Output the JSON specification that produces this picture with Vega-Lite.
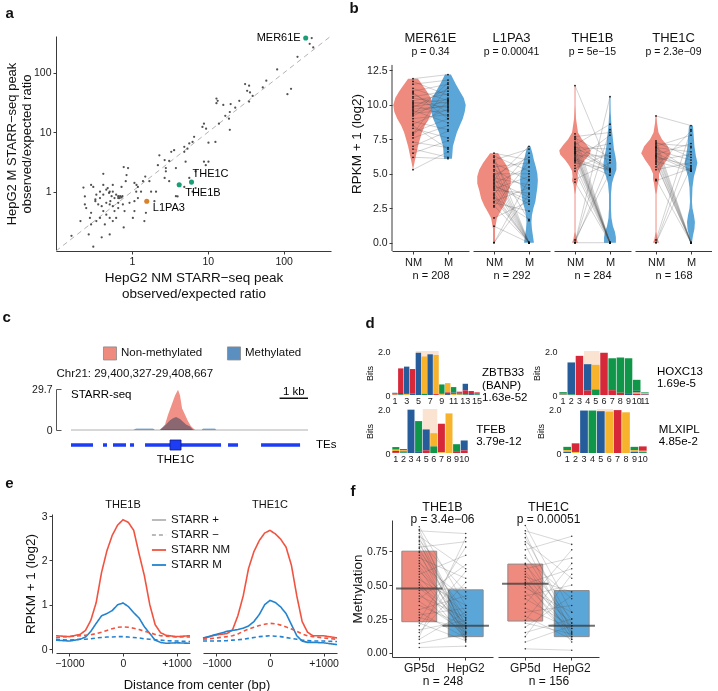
{
"$schema":"https://vega.github.io/schema/vega-lite/v6.json",
"padding":{"left":2,"top":0,"right":0,"bottom":0},
"background":"white",
"config":{
 "font":"Liberation Sans",
 "view":{"stroke":null},
 "axis":{"grid":false,"domainColor":"#3a3a3a","tickColor":"#3a3a3a","labelColor":"#1a1a1a","titleColor":"#111111","labelFontSize":10.5,"titleFontSize":13,"titleFontWeight":"normal","tickSize":3,"labelPadding":2,"titlePadding":4},
 "title":{"fontWeight":"normal","color":"#111111","subtitleColor":"#111111"},
 "header":{"labelFont":"Liberation Sans","labelColor":"#111111","titleFont":"Liberation Sans","titleColor":"#111111","titleFontWeight":"normal"},
 "legend":{"labelFont":"Liberation Sans","labelColor":"#111111"}
},
"datasets":{
 "peaks":[
{"nm":234,"m":387},{"nm":220,"m":310},{"nm":245,"m":270},{"nm":152,"m":187},{"nm":82,"m":115},{"nm":112,"m":44},{"nm":125,"m":54},{"nm":59,"m":74},{"nm":53,"m":57},{"nm":35,"m":61},{"nm":31,"m":65},{"nm":33,"m":50},{"nm":36,"m":47},{"nm":39,"m":41},{"nm":35,"m":33},{"nm":26,"m":34},{"nm":23,"m":26},{"nm":20,"m":30},{"nm":16,"m":29},{"nm":13,"m":37},{"nm":13.5,"m":34},{"nm":13,"m":31},{"nm":19.5,"m":22},{"nm":17,"m":19},{"nm":19,"m":17},{"nm":14,"m":14},{"nm":19.5,"m":11},{"nm":8.9,"m":14},{"nm":8.5,"m":12.3},{"nm":9.5,"m":11.5},{"nm":12.6,"m":6.9},{"nm":10.2,"m":6.7},{"nm":6.6,"m":8.4},{"nm":6.3,"m":6.9},{"nm":5.7,"m":6.5},{"nm":4.9,"m":5.7},{"nm":5.4,"m":5.3},{"nm":4.9,"m":4.7},{"nm":8.9,"m":3.2},{"nm":9.4,"m":2.8},{"nm":10.2,"m":3.2},{"nm":3.6,"m":5.0},{"nm":3.3,"m":4.7},{"nm":2.3,"m":4.1},{"nm":2.7,"m":3.4},{"nm":3.1,"m":3.3},{"nm":3.8,"m":2.5},{"nm":2.8,"m":2.5},{"nm":2.8,"m":2.2},{"nm":2.2,"m":2.8},{"nm":5.1,"m":3.2},{"nm":5.7,"m":1.7},{"nm":6.9,"m":2.2},{"nm":4.9,"m":1.2},{"nm":4.0,"m":0.83},{"nm":6.3,"m":1.0},{"nm":6.9,"m":1.15},{"nm":3.1,"m":1.5},{"nm":2.7,"m":1.7},{"nm":1.7,"m":1.5},{"nm":1.5,"m":1.8},{"nm":1.4,"m":1.5},{"nm":1.15,"m":1.3},{"nm":1.2,"m":1.2},{"nm":1.08,"m":1.4},{"nm":0.85,"m":1.9},{"nm":0.89,"m":2.5},{"nm":0.78,"m":2.6},{"nm":0.83,"m":1.5},{"nm":0.73,"m":1.2},{"nm":0.66,"m":0.78},{"nm":0.51,"m":1.0},{"nm":0.42,"m":2.0},{"nm":0.31,"m":1.2},{"nm":0.23,"m":1.17},{"nm":0.24,"m":0.83},{"nm":0.29,"m":1.3},
{"nm":0.38,"m":1.0},{"nm":0.42,"m":0.89},{"nm":0.46,"m":1.08},{"nm":0.48,"m":1.15},{"nm":0.5,"m":0.95},{"nm":0.54,"m":0.84},{"nm":0.56,"m":1.0},{"nm":0.59,"m":0.78},{"nm":0.62,"m":0.89},{"nm":0.66,"m":0.84},{"nm":0.69,"m":0.78},{"nm":0.70,"m":0.84},{"nm":0.73,"m":0.8},{"nm":0.75,"m":0.84},{"nm":0.52,"m":0.69},{"nm":0.46,"m":0.65},{"nm":0.40,"m":0.57},{"nm":0.38,"m":0.78},{"nm":0.34,"m":0.89},{"nm":0.33,"m":0.69},{"nm":0.36,"m":0.61},{"nm":0.42,"m":0.47},{"nm":0.46,"m":0.41},{"nm":0.56,"m":0.57},{"nm":0.59,"m":0.47},{"nm":0.66,"m":0.53},{"nm":0.51,"m":0.36},{"nm":0.56,"m":0.32},{"nm":0.62,"m":0.36},{"nm":0.44,"m":0.28},{"nm":0.38,"m":0.36},{"nm":0.34,"m":0.32},{"nm":0.29,"m":0.44},{"nm":0.28,"m":0.36},{"nm":0.29,"m":0.28},{"nm":0.24,"m":0.61},{"nm":0.25,"m":0.53},{"nm":0.40,"m":0.17},{"nm":0.51,"m":0.19},{"nm":0.31,"m":0.118},{"nm":0.21,"m":0.32},{"nm":0.16,"m":0.18},{"nm":0.27,"m":0.19},{"nm":0.78,"m":0.25},{"nm":1.03,"m":0.36},{"nm":0.80,"m":0.47},{"nm":0.93,"m":0.65},{"nm":1.08,"m":0.47},{"nm":1.46,"m":0.32},{"nm":1.53,"m":0.44},{"nm":1.98,"m":0.69},{"nm":2.08,"m":1.0},{"nm":1.08,"m":0.69},{"nm":1.2,"m":0.78},{"nm":0.76,"m":0.61},{"nm":0.66,"m":0.65},{"nm":1.14,"m":1.0},{"nm":1.32,"m":1.0},{"nm":1.79,"m":1.0},{"nm":3.8,"m":0.84},{"nm":0.42,"m":1.3},{"nm":0.56,"m":1.3},{"nm":0.33,"m":0.74},{"nm":0.51,"m":0.61}
 ],
 "hl":[{"te":"MER61E","nm":195,"m":388},{"te":"THE1C","nm":6.1,"m":1.45},{"te":"THE1B","nm":4.2,"m":1.31},{"te":"L1PA3","nm":1.57,"m":0.69}],
 "violin":[
{"f":"MER61E","c":"NM","v":5.3,"d":0},{"f":"MER61E","c":"NM","v":6,"d":2},{"f":"MER61E","c":"NM","v":6.5,"d":3.5},{"f":"MER61E","c":"NM","v":7,"d":5},{"f":"MER61E","c":"NM","v":7.5,"d":7},{"f":"MER61E","c":"NM","v":8,"d":9},{"f":"MER61E","c":"NM","v":8.5,"d":12},{"f":"MER61E","c":"NM","v":9,"d":16},{"f":"MER61E","c":"NM","v":9.5,"d":19},{"f":"MER61E","c":"NM","v":10,"d":20},{"f":"MER61E","c":"NM","v":10.5,"d":18},{"f":"MER61E","c":"NM","v":11,"d":14},{"f":"MER61E","c":"NM","v":11.5,"d":9},{"f":"MER61E","c":"NM","v":11.9,"d":5},
{"f":"MER61E","c":"M","v":6.1,"d":4},{"f":"MER61E","c":"M","v":6.5,"d":4.5},{"f":"MER61E","c":"M","v":7,"d":5},{"f":"MER61E","c":"M","v":7.5,"d":7},{"f":"MER61E","c":"M","v":8,"d":9},{"f":"MER61E","c":"M","v":8.5,"d":12},{"f":"MER61E","c":"M","v":9,"d":15},{"f":"MER61E","c":"M","v":9.5,"d":17},{"f":"MER61E","c":"M","v":10,"d":18},{"f":"MER61E","c":"M","v":10.5,"d":16},{"f":"MER61E","c":"M","v":11,"d":12},{"f":"MER61E","c":"M","v":11.5,"d":8},{"f":"MER61E","c":"M","v":12.2,"d":3},
{"f":"L1PA3","c":"NM","v":0,"d":1},{"f":"L1PA3","c":"NM","v":1,"d":1},{"f":"L1PA3","c":"NM","v":1.8,"d":3},{"f":"L1PA3","c":"NM","v":2.2,"d":6},{"f":"L1PA3","c":"NM","v":2.7,"d":10},{"f":"L1PA3","c":"NM","v":3.2,"d":13},{"f":"L1PA3","c":"NM","v":3.8,"d":15},{"f":"L1PA3","c":"NM","v":4.3,"d":17},{"f":"L1PA3","c":"NM","v":4.8,"d":17},{"f":"L1PA3","c":"NM","v":5.3,"d":15},{"f":"L1PA3","c":"NM","v":5.8,"d":11},{"f":"L1PA3","c":"NM","v":6.3,"d":6},{"f":"L1PA3","c":"NM","v":6.5,"d":4},
{"f":"L1PA3","c":"M","v":0,"d":5},{"f":"L1PA3","c":"M","v":0.5,"d":4},{"f":"L1PA3","c":"M","v":1,"d":3},{"f":"L1PA3","c":"M","v":1.5,"d":2.5},{"f":"L1PA3","c":"M","v":2,"d":3},{"f":"L1PA3","c":"M","v":2.5,"d":4.5},{"f":"L1PA3","c":"M","v":3,"d":6.5},{"f":"L1PA3","c":"M","v":3.5,"d":7.5},{"f":"L1PA3","c":"M","v":4,"d":8.5},{"f":"L1PA3","c":"M","v":4.5,"d":9},{"f":"L1PA3","c":"M","v":5,"d":8.5},{"f":"L1PA3","c":"M","v":5.5,"d":7},{"f":"L1PA3","c":"M","v":6,"d":5},{"f":"L1PA3","c":"M","v":6.5,"d":3.5},{"f":"L1PA3","c":"M","v":7,"d":1.5},
{"f":"THE1B","c":"NM","v":0,"d":3},{"f":"THE1B","c":"NM","v":0.3,"d":1.5},{"f":"THE1B","c":"NM","v":0.8,"d":0.5},{"f":"THE1B","c":"NM","v":2,"d":0.5},{"f":"THE1B","c":"NM","v":3.5,"d":0.5},{"f":"THE1B","c":"NM","v":4.2,"d":1.5},{"f":"THE1B","c":"NM","v":4.5,"d":3},{"f":"THE1B","c":"NM","v":4.8,"d":2.5},{"f":"THE1B","c":"NM","v":5.2,"d":3},{"f":"THE1B","c":"NM","v":5.6,"d":6},{"f":"THE1B","c":"NM","v":6,"d":10},{"f":"THE1B","c":"NM","v":6.4,"d":15},{"f":"THE1B","c":"NM","v":6.7,"d":16},{"f":"THE1B","c":"NM","v":7.1,"d":12},{"f":"THE1B","c":"NM","v":7.5,"d":7},{"f":"THE1B","c":"NM","v":8,"d":3},{"f":"THE1B","c":"NM","v":9,"d":1},{"f":"THE1B","c":"NM","v":10,"d":0.5},{"f":"THE1B","c":"NM","v":11.4,"d":0.5},
{"f":"THE1B","c":"M","v":0,"d":6},{"f":"THE1B","c":"M","v":0.4,"d":6},{"f":"THE1B","c":"M","v":0.8,"d":5},{"f":"THE1B","c":"M","v":1.2,"d":3},{"f":"THE1B","c":"M","v":1.8,"d":1.5},{"f":"THE1B","c":"M","v":2.5,"d":1},{"f":"THE1B","c":"M","v":3.5,"d":1},{"f":"THE1B","c":"M","v":4.3,"d":2},{"f":"THE1B","c":"M","v":4.8,"d":4},{"f":"THE1B","c":"M","v":5.3,"d":6.5},{"f":"THE1B","c":"M","v":5.8,"d":6.5},{"f":"THE1B","c":"M","v":6.3,"d":5.5},{"f":"THE1B","c":"M","v":6.8,"d":4},{"f":"THE1B","c":"M","v":7.5,"d":3},{"f":"THE1B","c":"M","v":8.5,"d":1.5},{"f":"THE1B","c":"M","v":9.5,"d":0.7},{"f":"THE1B","c":"M","v":10.6,"d":0.5},
{"f":"THE1C","c":"NM","v":0,"d":3},{"f":"THE1C","c":"NM","v":0.3,"d":1.5},{"f":"THE1C","c":"NM","v":0.8,"d":0.5},{"f":"THE1C","c":"NM","v":2,"d":0.5},{"f":"THE1C","c":"NM","v":3.5,"d":0.5},{"f":"THE1C","c":"NM","v":4.3,"d":2},{"f":"THE1C","c":"NM","v":4.6,"d":3},{"f":"THE1C","c":"NM","v":5,"d":3},{"f":"THE1C","c":"NM","v":5.5,"d":6},{"f":"THE1C","c":"NM","v":6,"d":11},{"f":"THE1C","c":"NM","v":6.5,"d":15},{"f":"THE1C","c":"NM","v":7,"d":12},{"f":"THE1C","c":"NM","v":7.5,"d":6},{"f":"THE1C","c":"NM","v":8,"d":2.5},{"f":"THE1C","c":"NM","v":8.7,"d":1},{"f":"THE1C","c":"NM","v":9.2,"d":0.5},
{"f":"THE1C","c":"M","v":0,"d":1},{"f":"THE1C","c":"M","v":0.5,"d":2},{"f":"THE1C","c":"M","v":1,"d":3.5},{"f":"THE1C","c":"M","v":1.5,"d":4},{"f":"THE1C","c":"M","v":2,"d":3},{"f":"THE1C","c":"M","v":2.5,"d":1.5},{"f":"THE1C","c":"M","v":3,"d":1},{"f":"THE1C","c":"M","v":4,"d":1.5},{"f":"THE1C","c":"M","v":4.8,"d":3},{"f":"THE1C","c":"M","v":5.3,"d":5},{"f":"THE1C","c":"M","v":5.8,"d":6.5},{"f":"THE1C","c":"M","v":6.3,"d":5},{"f":"THE1C","c":"M","v":7,"d":3.5},{"f":"THE1C","c":"M","v":7.5,"d":3},{"f":"THE1C","c":"M","v":8,"d":2.5},{"f":"THE1C","c":"M","v":8.5,"d":2}
 ],
 "pairsB":[
{"f":"MER61E","id":1,"NM":11.9,"M":12.2},{"f":"MER61E","id":2,"NM":11.5,"M":11.8},{"f":"MER61E","id":3,"NM":11.2,"M":10.3},{"f":"MER61E","id":4,"NM":11.0,"M":11.5},{"f":"MER61E","id":5,"NM":10.8,"M":9.5},{"f":"MER61E","id":6,"NM":10.6,"M":11.0},{"f":"MER61E","id":7,"NM":10.5,"M":10.1},{"f":"MER61E","id":8,"NM":10.3,"M":10.8},{"f":"MER61E","id":9,"NM":10.2,"M":9.8},{"f":"MER61E","id":10,"NM":10.1,"M":10.4},{"f":"MER61E","id":11,"NM":10.0,"M":9.2},{"f":"MER61E","id":12,"NM":9.9,"M":10.2},{"f":"MER61E","id":13,"NM":9.8,"M":11.2},{"f":"MER61E","id":14,"NM":9.7,"M":9.9},{"f":"MER61E","id":15,"NM":9.6,"M":8.7},{"f":"MER61E","id":16,"NM":9.5,"M":10.0},{"f":"MER61E","id":17,"NM":9.4,"M":9.6},{"f":"MER61E","id":18,"NM":9.2,"M":10.5},{"f":"MER61E","id":19,"NM":9.0,"M":9.3},{"f":"MER61E","id":20,"NM":8.8,"M":8.2},{"f":"MER61E","id":21,"NM":8.6,"M":9.7},{"f":"MER61E","id":22,"NM":8.3,"M":7.6},{"f":"MER61E","id":23,"NM":8.0,"M":9.0},{"f":"MER61E","id":24,"NM":7.8,"M":10.3},{"f":"MER61E","id":25,"NM":7.6,"M":8.5},{"f":"MER61E","id":26,"NM":7.3,"M":6.9},{"f":"MER61E","id":27,"NM":7.0,"M":8.1},{"f":"MER61E","id":28,"NM":6.8,"M":6.2},{"f":"MER61E","id":29,"NM":6.5,"M":7.4},{"f":"MER61E","id":30,"NM":6.2,"M":6.1},{"f":"MER61E","id":31,"NM":5.3,"M":6.6},{"f":"MER61E","id":32,"NM":11.7,"M":10.7},{"f":"MER61E","id":33,"NM":10.9,"M":9.0},{"f":"MER61E","id":34,"NM":9.3,"M":11.6},{"f":"MER61E","id":35,"NM":8.5,"M":6.8},{"f":"MER61E","id":36,"NM":7.9,"M":11.3},
{"f":"L1PA3","id":1,"NM":6.5,"M":6.0},{"f":"L1PA3","id":2,"NM":6.3,"M":5.2},{"f":"L1PA3","id":3,"NM":6.2,"M":0.0},{"f":"L1PA3","id":4,"NM":6.0,"M":6.8},{"f":"L1PA3","id":5,"NM":5.8,"M":4.5},{"f":"L1PA3","id":6,"NM":5.6,"M":0.0},{"f":"L1PA3","id":7,"NM":5.5,"M":5.8},{"f":"L1PA3","id":8,"NM":5.3,"M":3.9},{"f":"L1PA3","id":9,"NM":5.2,"M":0.0},{"f":"L1PA3","id":10,"NM":5.0,"M":5.0},{"f":"L1PA3","id":11,"NM":4.9,"M":6.2},{"f":"L1PA3","id":12,"NM":4.8,"M":0.0},{"f":"L1PA3","id":13,"NM":4.7,"M":4.2},{"f":"L1PA3","id":14,"NM":4.5,"M":3.3},{"f":"L1PA3","id":15,"NM":4.4,"M":0.0},{"f":"L1PA3","id":16,"NM":4.3,"M":5.5},{"f":"L1PA3","id":17,"NM":4.2,"M":2.8},{"f":"L1PA3","id":18,"NM":4.0,"M":0.0},{"f":"L1PA3","id":19,"NM":3.9,"M":4.8},{"f":"L1PA3","id":20,"NM":3.8,"M":3.6},{"f":"L1PA3","id":21,"NM":3.6,"M":0.0},{"f":"L1PA3","id":22,"NM":3.5,"M":6.5},{"f":"L1PA3","id":23,"NM":3.3,"M":1.7},{"f":"L1PA3","id":24,"NM":3.2,"M":0.0},{"f":"L1PA3","id":25,"NM":3.0,"M":4.0},{"f":"L1PA3","id":26,"NM":2.9,"M":2.3},{"f":"L1PA3","id":27,"NM":2.7,"M":0.0},{"f":"L1PA3","id":28,"NM":2.6,"M":5.9},{"f":"L1PA3","id":29,"NM":1.8,"M":3.0},{"f":"L1PA3","id":30,"NM":1.2,"M":0.0},{"f":"L1PA3","id":31,"NM":0.0,"M":3.5},{"f":"L1PA3","id":32,"NM":0.0,"M":4.6},{"f":"L1PA3","id":33,"NM":5.9,"M":1.6},{"f":"L1PA3","id":34,"NM":4.6,"M":7.0},{"f":"L1PA3","id":35,"NM":3.4,"M":0.0},{"f":"L1PA3","id":36,"NM":4.1,"M":3.1},
{"f":"THE1B","id":1,"NM":11.4,"M":5.3},{"f":"THE1B","id":2,"NM":7.9,"M":0.0},{"f":"THE1B","id":3,"NM":7.6,"M":6.2},{"f":"THE1B","id":4,"NM":7.5,"M":0.0},{"f":"THE1B","id":5,"NM":7.3,"M":5.3},{"f":"THE1B","id":6,"NM":7.2,"M":0.0},{"f":"THE1B","id":7,"NM":7.1,"M":8.6},{"f":"THE1B","id":8,"NM":7.0,"M":5.2},{"f":"THE1B","id":9,"NM":6.9,"M":0.0},{"f":"THE1B","id":10,"NM":6.8,"M":6.0},{"f":"THE1B","id":11,"NM":6.8,"M":0.0},{"f":"THE1B","id":12,"NM":6.7,"M":5.4},{"f":"THE1B","id":13,"NM":6.6,"M":0.0},{"f":"THE1B","id":14,"NM":6.6,"M":7.2},{"f":"THE1B","id":15,"NM":6.5,"M":5.3},{"f":"THE1B","id":16,"NM":6.4,"M":0.0},{"f":"THE1B","id":17,"NM":6.3,"M":6.3},{"f":"THE1B","id":18,"NM":6.2,"M":0.0},{"f":"THE1B","id":19,"NM":6.1,"M":5.2},{"f":"THE1B","id":20,"NM":6.0,"M":0.0},{"f":"THE1B","id":21,"NM":5.9,"M":7.8},{"f":"THE1B","id":22,"NM":5.8,"M":5.3},{"f":"THE1B","id":23,"NM":5.6,"M":0.0},{"f":"THE1B","id":24,"NM":5.4,"M":6.5},{"f":"THE1B","id":25,"NM":5.2,"M":0.0},{"f":"THE1B","id":26,"NM":4.6,"M":5.8},{"f":"THE1B","id":27,"NM":4.4,"M":0.0},{"f":"THE1B","id":28,"NM":0.0,"M":10.6},{"f":"THE1B","id":29,"NM":0.0,"M":8.2},{"f":"THE1B","id":30,"NM":0.0,"M":6.0},{"f":"THE1B","id":31,"NM":0.0,"M":0.0},{"f":"THE1B","id":32,"NM":0.2,"M":5.1},{"f":"THE1B","id":33,"NM":6.9,"M":6.8},{"f":"THE1B","id":34,"NM":7.7,"M":8.0},{"f":"THE1B","id":35,"NM":6.0,"M":4.9},{"f":"THE1B","id":36,"NM":6.5,"M":0.0},
{"f":"THE1C","id":1,"NM":9.2,"M":8.5},{"f":"THE1C","id":2,"NM":7.4,"M":0.0},{"f":"THE1C","id":3,"NM":7.3,"M":6.2},{"f":"THE1C","id":4,"NM":7.1,"M":0.0},{"f":"THE1C","id":5,"NM":7.0,"M":7.8},{"f":"THE1C","id":6,"NM":6.9,"M":5.2},{"f":"THE1C","id":7,"NM":6.8,"M":0.0},{"f":"THE1C","id":8,"NM":6.7,"M":6.0},{"f":"THE1C","id":9,"NM":6.6,"M":0.0},{"f":"THE1C","id":10,"NM":6.5,"M":5.3},{"f":"THE1C","id":11,"NM":6.4,"M":7.2},{"f":"THE1C","id":12,"NM":6.3,"M":0.0},{"f":"THE1C","id":13,"NM":6.2,"M":5.6},{"f":"THE1C","id":14,"NM":6.1,"M":0.0},{"f":"THE1C","id":15,"NM":6.0,"M":6.4},{"f":"THE1C","id":16,"NM":5.9,"M":5.2},{"f":"THE1C","id":17,"NM":5.7,"M":0.0},{"f":"THE1C","id":18,"NM":5.5,"M":8.1},{"f":"THE1C","id":19,"NM":5.3,"M":5.8},{"f":"THE1C","id":20,"NM":4.6,"M":0.0},{"f":"THE1C","id":21,"NM":4.5,"M":5.4},{"f":"THE1C","id":22,"NM":0.0,"M":6.9},{"f":"THE1C","id":23,"NM":0.0,"M":5.5},{"f":"THE1C","id":24,"NM":0.2,"M":8.2},{"f":"THE1C","id":25,"NM":6.9,"M":6.6},{"f":"THE1C","id":26,"NM":6.3,"M":5.2},{"f":"THE1C","id":27,"NM":5.8,"M":0.0},{"f":"THE1C","id":28,"NM":7.2,"M":7.0}
 ],
 "starr":[
{"sample":"Non-methylated","pos":29403460,"cov":0},{"sample":"Non-methylated","pos":29403636,"cov":4},{"sample":"Non-methylated","pos":29403741,"cov":11},{"sample":"Non-methylated","pos":29403847,"cov":17},{"sample":"Non-methylated","pos":29403988,"cov":25},{"sample":"Non-methylated","pos":29404093,"cov":29.2},{"sample":"Non-methylated","pos":29404164,"cov":25},{"sample":"Non-methylated","pos":29404234,"cov":15.7},{"sample":"Non-methylated","pos":29404340,"cov":11},{"sample":"Non-methylated","pos":29404445,"cov":6.3},{"sample":"Non-methylated","pos":29404551,"cov":2.8},{"sample":"Non-methylated","pos":29404692,"cov":0},
{"sample":"Methylated","pos":29402527,"cov":0},{"sample":"Methylated","pos":29402615,"cov":1.0},{"sample":"Methylated","pos":29403213,"cov":1.0},{"sample":"Methylated","pos":29403277,"cov":0},{"sample":"Methylated","pos":29403460,"cov":0},{"sample":"Methylated","pos":29403477,"cov":0.8},{"sample":"Methylated","pos":29403565,"cov":2},{"sample":"Methylated","pos":29403671,"cov":4},{"sample":"Methylated","pos":29403812,"cov":7},{"sample":"Methylated","pos":29403917,"cov":8.5},{"sample":"Methylated","pos":29404023,"cov":9.5},{"sample":"Methylated","pos":29404164,"cov":8},{"sample":"Methylated","pos":29404269,"cov":6},{"sample":"Methylated","pos":29404375,"cov":4},{"sample":"Methylated","pos":29404516,"cov":2.5},{"sample":"Methylated","pos":29404621,"cov":0},{"sample":"Methylated","pos":29404927,"cov":0},{"sample":"Methylated","pos":29404973,"cov":1.0},{"sample":"Methylated","pos":29405396,"cov":1.0},{"sample":"Methylated","pos":29405437,"cov":0}
 ],
 "tes":[{"start":29400327,"end":29401101},{"start":29401453,"end":29401594},{"start":29401805,"end":29402263},{"start":29402404,"end":29402545},{"start":29402932,"end":29403812},{"start":29404199,"end":29405607},{"start":29405853,"end":29406205},{"start":29407015,"end":29408388}],
 "the1c":[{"name":"THE1C","start":29403812,"end":29404199}],
 "logo":[
{"m":"ZBTB33","p":1,"b":"A","h":0.03},{"m":"ZBTB33","p":1,"b":"C","h":0.03},{"m":"ZBTB33","p":1,"b":"G","h":0.02},{"m":"ZBTB33","p":1,"b":"T","h":0.02},
{"m":"ZBTB33","p":2,"b":"T","h":1.12},{"m":"ZBTB33","p":2,"b":"C","h":0.06},{"m":"ZBTB33","p":2,"b":"A","h":0.03},
{"m":"ZBTB33","p":3,"b":"C","h":1.2},{"m":"ZBTB33","p":3,"b":"A","h":0.05},{"m":"ZBTB33","p":3,"b":"G","h":0.04},
{"m":"ZBTB33","p":4,"b":"T","h":1.12},{"m":"ZBTB33","p":4,"b":"C","h":0.06},
{"m":"ZBTB33","p":5,"b":"C","h":1.92},
{"m":"ZBTB33","p":6,"b":"G","h":1.7},{"m":"ZBTB33","p":6,"b":"A","h":0.05},
{"m":"ZBTB33","p":7,"b":"C","h":1.85},
{"m":"ZBTB33","p":8,"b":"G","h":1.78},{"m":"ZBTB33","p":8,"b":"T","h":0.04},
{"m":"ZBTB33","p":9,"b":"A","h":0.4},{"m":"ZBTB33","p":9,"b":"T","h":0.05},{"m":"ZBTB33","p":9,"b":"G","h":0.03},
{"m":"ZBTB33","p":10,"b":"G","h":0.42},{"m":"ZBTB33","p":10,"b":"T","h":0.08},{"m":"ZBTB33","p":10,"b":"C","h":0.04},
{"m":"ZBTB33","p":11,"b":"A","h":0.25},{"m":"ZBTB33","p":11,"b":"C","h":0.06},{"m":"ZBTB33","p":11,"b":"G","h":0.05},
{"m":"ZBTB33","p":12,"b":"T","h":0.05},{"m":"ZBTB33","p":12,"b":"C","h":0.04},{"m":"ZBTB33","p":12,"b":"G","h":0.03},{"m":"ZBTB33","p":12,"b":"A","h":0.03},
{"m":"ZBTB33","p":13,"b":"C","h":0.3},{"m":"ZBTB33","p":13,"b":"T","h":0.18},{"m":"ZBTB33","p":13,"b":"A","h":0.03},
{"m":"ZBTB33","p":14,"b":"T","h":0.14},{"m":"ZBTB33","p":14,"b":"C","h":0.04},
{"m":"ZBTB33","p":15,"b":"T","h":0.05},{"m":"ZBTB33","p":15,"b":"C","h":0.04},{"m":"ZBTB33","p":15,"b":"A","h":0.03},
{"m":"HOXC13","p":1,"b":"A","h":0.04},{"m":"HOXC13","p":1,"b":"C","h":0.03},{"m":"HOXC13","p":1,"b":"G","h":0.03},{"m":"HOXC13","p":1,"b":"T","h":0.03},
{"m":"HOXC13","p":2,"b":"C","h":1.45},{"m":"HOXC13","p":2,"b":"A","h":0.03},
{"m":"HOXC13","p":3,"b":"T","h":1.78},
{"m":"HOXC13","p":4,"b":"C","h":1.2},{"m":"HOXC13","p":4,"b":"T","h":0.2},
{"m":"HOXC13","p":5,"b":"G","h":1.12},{"m":"HOXC13","p":5,"b":"A","h":0.25},
{"m":"HOXC13","p":6,"b":"T","h":1.92},
{"m":"HOXC13","p":7,"b":"A","h":1.45},{"m":"HOXC13","p":7,"b":"T","h":0.22},
{"m":"HOXC13","p":8,"b":"A","h":1.6},{"m":"HOXC13","p":8,"b":"T","h":0.1},
{"m":"HOXC13","p":9,"b":"A","h":1.62},{"m":"HOXC13","p":9,"b":"C","h":0.05},
{"m":"HOXC13","p":10,"b":"A","h":0.5},{"m":"HOXC13","p":10,"b":"C","h":0.08},{"m":"HOXC13","p":10,"b":"G","h":0.06},{"m":"HOXC13","p":10,"b":"T","h":0.05},
{"m":"HOXC13","p":11,"b":"A","h":0.04},{"m":"HOXC13","p":11,"b":"C","h":0.03},{"m":"HOXC13","p":11,"b":"G","h":0.03},{"m":"HOXC13","p":11,"b":"T","h":0.02},
{"m":"TFEB","p":1,"b":"A","h":0.12},{"m":"TFEB","p":1,"b":"G","h":0.06},{"m":"TFEB","p":1,"b":"C","h":0.05},{"m":"TFEB","p":1,"b":"T","h":0.04},
{"m":"TFEB","p":2,"b":"T","h":0.06},{"m":"TFEB","p":2,"b":"G","h":0.05},{"m":"TFEB","p":2,"b":"C","h":0.04},{"m":"TFEB","p":2,"b":"A","h":0.03},
{"m":"TFEB","p":3,"b":"C","h":1.97},
{"m":"TFEB","p":4,"b":"A","h":1.4},{"m":"TFEB","p":4,"b":"C","h":0.05},
{"m":"TFEB","p":5,"b":"C","h":0.95},{"m":"TFEB","p":5,"b":"T","h":0.12},
{"m":"TFEB","p":6,"b":"G","h":0.6},{"m":"TFEB","p":6,"b":"A","h":0.3},
{"m":"TFEB","p":7,"b":"T","h":1.3},{"m":"TFEB","p":7,"b":"G","h":0.03},
{"m":"TFEB","p":8,"b":"G","h":1.8},
{"m":"TFEB","p":9,"b":"A","h":0.35},{"m":"TFEB","p":9,"b":"T","h":0.05},
{"m":"TFEB","p":10,"b":"C","h":0.45},{"m":"TFEB","p":10,"b":"T","h":0.12},
{"m":"MLXIPL","p":1,"b":"A","h":0.15},{"m":"MLXIPL","p":1,"b":"G","h":0.08},{"m":"MLXIPL","p":1,"b":"C","h":0.05},
{"m":"MLXIPL","p":2,"b":"T","h":0.35},{"m":"MLXIPL","p":2,"b":"A","h":0.05},{"m":"MLXIPL","p":2,"b":"G","h":0.04},
{"m":"MLXIPL","p":3,"b":"C","h":1.93},
{"m":"MLXIPL","p":4,"b":"A","h":1.93},
{"m":"MLXIPL","p":5,"b":"C","h":1.9},
{"m":"MLXIPL","p":6,"b":"G","h":1.88},
{"m":"MLXIPL","p":7,"b":"T","h":1.95},
{"m":"MLXIPL","p":8,"b":"G","h":1.85},
{"m":"MLXIPL","p":9,"b":"A","h":0.15},{"m":"MLXIPL","p":9,"b":"G","h":0.08},{"m":"MLXIPL","p":9,"b":"C","h":0.05},
{"m":"MLXIPL","p":10,"b":"T","h":0.2},{"m":"MLXIPL","p":10,"b":"G","h":0.06},{"m":"MLXIPL","p":10,"b":"A","h":0.04}
 ],
 "logohl":[{"m":"ZBTB33","from":5,"to":8},{"m":"HOXC13","from":4,"to":5},{"m":"TFEB","from":5,"to":6},{"m":"MLXIPL","from":5,"to":6}],
 "logolab":[{"m":"ZBTB33","p":15,"name":["ZBTB33","(BANP)","1.63e-52"]},{"m":"HOXC13","p":11,"name":["HOXC13","1.69e-5"]},{"m":"TFEB","p":10,"name":["TFEB","3.79e-12"]},{"m":"MLXIPL","p":10,"name":["MLXIPL","4.85e-2"]}],
 "eprof":[
{"f":"THE1B","pos":-1250,"NMp":0.30,"Mp":0.20,"NMm":0.26,"Mm":0.22},{"f":"THE1B","pos":-1000,"NMp":0.28,"Mp":0.18,"NMm":0.28,"Mm":0.20},{"f":"THE1B","pos":-800,"NMp":0.33,"Mp":0.22,"NMm":0.30,"Mm":0.22},{"f":"THE1B","pos":-700,"NMp":0.42,"Mp":0.27,"NMm":0.31,"Mm":0.22},{"f":"THE1B","pos":-600,"NMp":0.65,"Mp":0.40,"NMm":0.32,"Mm":0.23},{"f":"THE1B","pos":-500,"NMp":1.05,"Mp":0.58,"NMm":0.35,"Mm":0.25},{"f":"THE1B","pos":-400,"NMp":1.73,"Mp":0.75,"NMm":0.38,"Mm":0.26},{"f":"THE1B","pos":-300,"NMp":2.22,"Mp":0.80,"NMm":0.42,"Mm":0.27},{"f":"THE1B","pos":-200,"NMp":2.57,"Mp":0.87,"NMm":0.46,"Mm":0.27},{"f":"THE1B","pos":-100,"NMp":2.80,"Mp":1.00,"NMm":0.49,"Mm":0.28},{"f":"THE1B","pos":0,"NMp":2.92,"Mp":1.04,"NMm":0.50,"Mm":0.28},{"f":"THE1B","pos":100,"NMp":2.86,"Mp":0.96,"NMm":0.49,"Mm":0.27},{"f":"THE1B","pos":200,"NMp":2.68,"Mp":0.82,"NMm":0.47,"Mm":0.26},{"f":"THE1B","pos":300,"NMp":2.15,"Mp":0.70,"NMm":0.44,"Mm":0.25},{"f":"THE1B","pos":400,"NMp":1.65,"Mp":0.50,"NMm":0.40,"Mm":0.23},{"f":"THE1B","pos":500,"NMp":1.00,"Mp":0.35,"NMm":0.37,"Mm":0.22},{"f":"THE1B","pos":600,"NMp":0.55,"Mp":0.20,"NMm":0.33,"Mm":0.21},{"f":"THE1B","pos":700,"NMp":0.37,"Mp":0.15,"NMm":0.30,"Mm":0.20},{"f":"THE1B","pos":800,"NMp":0.31,"Mp":0.13,"NMm":0.29,"Mm":0.19},{"f":"THE1B","pos":1000,"NMp":0.28,"Mp":0.14,"NMm":0.27,"Mm":0.18},{"f":"THE1B","pos":1250,"NMp":0.30,"Mp":0.13,"NMm":0.27,"Mm":0.17},
{"f":"THE1C","pos":-1250,"NMp":0.24,"Mp":0.25,"NMm":0.22,"Mm":0.18},{"f":"THE1C","pos":-1000,"NMp":0.32,"Mp":0.33,"NMm":0.25,"Mm":0.18},{"f":"THE1C","pos":-800,"NMp":0.35,"Mp":0.40,"NMm":0.28,"Mm":0.19},{"f":"THE1C","pos":-700,"NMp":0.43,"Mp":0.42,"NMm":0.30,"Mm":0.20},{"f":"THE1C","pos":-600,"NMp":0.75,"Mp":0.44,"NMm":0.34,"Mm":0.21},{"f":"THE1C","pos":-500,"NMp":1.20,"Mp":0.47,"NMm":0.40,"Mm":0.22},{"f":"THE1C","pos":-400,"NMp":1.82,"Mp":0.52,"NMm":0.45,"Mm":0.24},{"f":"THE1C","pos":-300,"NMp":2.20,"Mp":0.62,"NMm":0.49,"Mm":0.26},{"f":"THE1C","pos":-200,"NMp":2.45,"Mp":0.78,"NMm":0.53,"Mm":0.28},{"f":"THE1C","pos":-100,"NMp":2.62,"Mp":1.00,"NMm":0.56,"Mm":0.29},{"f":"THE1C","pos":0,"NMp":2.68,"Mp":1.10,"NMm":0.58,"Mm":0.30},{"f":"THE1C","pos":100,"NMp":2.60,"Mp":1.05,"NMm":0.57,"Mm":0.29},{"f":"THE1C","pos":200,"NMp":2.48,"Mp":0.95,"NMm":0.54,"Mm":0.28},{"f":"THE1C","pos":300,"NMp":2.30,"Mp":0.80,"NMm":0.50,"Mm":0.26},{"f":"THE1C","pos":400,"NMp":1.89,"Mp":0.55,"NMm":0.45,"Mm":0.24},{"f":"THE1C","pos":500,"NMp":1.20,"Mp":0.30,"NMm":0.40,"Mm":0.22},{"f":"THE1C","pos":600,"NMp":0.62,"Mp":0.18,"NMm":0.34,"Mm":0.20},{"f":"THE1C","pos":700,"NMp":0.38,"Mp":0.15,"NMm":0.30,"Mm":0.19},{"f":"THE1C","pos":800,"NMp":0.30,"Mp":0.15,"NMm":0.28,"Mm":0.18},{"f":"THE1C","pos":1000,"NMp":0.30,"Mp":0.14,"NMm":0.25,"Mm":0.18},{"f":"THE1C","pos":1250,"NMp":0.25,"Mp":0.10,"NMm":0.22,"Mm":0.17}
 ],
 "ekeys":[{"k":"NMp","sample":"STARR NM","strand":"STARR +"},{"k":"Mp","sample":"STARR M","strand":"STARR +"},{"k":"NMm","sample":"STARR NM","strand":"STARR −"},{"k":"Mm","sample":"STARR M","strand":"STARR −"}],
 "fbox":[{"f":"THE1B","cell":"GP5d","q1":0.23,"median":0.475,"q3":0.75},{"f":"THE1B","cell":"HepG2","q1":0.12,"median":0.20,"q3":0.465},{"f":"THE1C","cell":"GP5d","q1":0.235,"median":0.51,"q3":0.655},{"f":"THE1C","cell":"HepG2","q1":0.12,"median":0.20,"q3":0.46}],
 "fpairs":[
{"f":"THE1B","id":1,"GP5d":0.93,"HepG2":0.35},{"f":"THE1B","id":2,"GP5d":0.91,"HepG2":0.12},{"f":"THE1B","id":3,"GP5d":0.90,"HepG2":0.88},{"f":"THE1B","id":4,"GP5d":0.88,"HepG2":0.20},{"f":"THE1B","id":5,"GP5d":0.86,"HepG2":0.62},{"f":"THE1B","id":6,"GP5d":0.85,"HepG2":0.15},{"f":"THE1B","id":7,"GP5d":0.83,"HepG2":0.45},{"f":"THE1B","id":8,"GP5d":0.82,"HepG2":0.10},{"f":"THE1B","id":9,"GP5d":0.80,"HepG2":0.25},{"f":"THE1B","id":10,"GP5d":0.78,"HepG2":0.82},{"f":"THE1B","id":11,"GP5d":0.77,"HepG2":0.18},{"f":"THE1B","id":12,"GP5d":0.75,"HepG2":0.30},{"f":"THE1B","id":13,"GP5d":0.74,"HepG2":0.08},{"f":"THE1B","id":14,"GP5d":0.72,"HepG2":0.22},{"f":"THE1B","id":15,"GP5d":0.70,"HepG2":0.55},{"f":"THE1B","id":16,"GP5d":0.68,"HepG2":0.14},{"f":"THE1B","id":17,"GP5d":0.66,"HepG2":0.40},{"f":"THE1B","id":18,"GP5d":0.64,"HepG2":0.20},{"f":"THE1B","id":19,"GP5d":0.62,"HepG2":0.12},{"f":"THE1B","id":20,"GP5d":0.60,"HepG2":0.28},{"f":"THE1B","id":21,"GP5d":0.58,"HepG2":0.72},{"f":"THE1B","id":22,"GP5d":0.56,"HepG2":0.16},{"f":"THE1B","id":23,"GP5d":0.54,"HepG2":0.35},{"f":"THE1B","id":24,"GP5d":0.52,"HepG2":0.10},{"f":"THE1B","id":25,"GP5d":0.50,"HepG2":0.22},{"f":"THE1B","id":26,"GP5d":0.48,"HepG2":0.19},{"f":"THE1B","id":27,"GP5d":0.46,"HepG2":0.48},{"f":"THE1B","id":28,"GP5d":0.44,"HepG2":0.12},{"f":"THE1B","id":29,"GP5d":0.42,"HepG2":0.26},{"f":"THE1B","id":30,"GP5d":0.40,"HepG2":0.65},{"f":"THE1B","id":31,"GP5d":0.38,"HepG2":0.15},{"f":"THE1B","id":32,"GP5d":0.35,"HepG2":0.20},{"f":"THE1B","id":33,"GP5d":0.32,"HepG2":0.42},{"f":"THE1B","id":34,"GP5d":0.30,"HepG2":0.11},{"f":"THE1B","id":35,"GP5d":0.28,"HepG2":0.33},{"f":"THE1B","id":36,"GP5d":0.26,"HepG2":0.18},{"f":"THE1B","id":37,"GP5d":0.24,"HepG2":0.78},{"f":"THE1B","id":38,"GP5d":0.22,"HepG2":0.09},{"f":"THE1B","id":39,"GP5d":0.20,"HepG2":0.60},{"f":"THE1B","id":40,"GP5d":0.17,"HepG2":0.24},{"f":"THE1B","id":41,"GP5d":0.15,"HepG2":0.52},{"f":"THE1B","id":42,"GP5d":0.12,"HepG2":0.85},{"f":"THE1B","id":43,"GP5d":0.10,"HepG2":0.30},{"f":"THE1B","id":44,"GP5d":0.07,"HepG2":0.14},{"f":"THE1B","id":45,"GP5d":0.04,"HepG2":0.05},
{"f":"THE1C","id":1,"GP5d":0.94,"HepG2":0.30},{"f":"THE1C","id":2,"GP5d":0.90,"HepG2":0.80},{"f":"THE1C","id":3,"GP5d":0.88,"HepG2":0.15},{"f":"THE1C","id":4,"GP5d":0.85,"HepG2":0.22},{"f":"THE1C","id":5,"GP5d":0.82,"HepG2":0.55},{"f":"THE1C","id":6,"GP5d":0.80,"HepG2":0.12},{"f":"THE1C","id":7,"GP5d":0.76,"HepG2":0.86},{"f":"THE1C","id":8,"GP5d":0.72,"HepG2":0.18},{"f":"THE1C","id":9,"GP5d":0.70,"HepG2":0.40},{"f":"THE1C","id":10,"GP5d":0.66,"HepG2":0.10},{"f":"THE1C","id":11,"GP5d":0.65,"HepG2":0.25},{"f":"THE1C","id":12,"GP5d":0.62,"HepG2":0.70},{"f":"THE1C","id":13,"GP5d":0.60,"HepG2":0.20},{"f":"THE1C","id":14,"GP5d":0.58,"HepG2":0.14},{"f":"THE1C","id":15,"GP5d":0.56,"HepG2":0.45},{"f":"THE1C","id":16,"GP5d":0.54,"HepG2":0.08},{"f":"THE1C","id":17,"GP5d":0.52,"HepG2":0.22},{"f":"THE1C","id":18,"GP5d":0.51,"HepG2":0.62},{"f":"THE1C","id":19,"GP5d":0.50,"HepG2":0.16},{"f":"THE1C","id":20,"GP5d":0.48,"HepG2":0.30},{"f":"THE1C","id":21,"GP5d":0.45,"HepG2":0.12},{"f":"THE1C","id":22,"GP5d":0.42,"HepG2":0.50},{"f":"THE1C","id":23,"GP5d":0.40,"HepG2":0.20},{"f":"THE1C","id":24,"GP5d":0.36,"HepG2":0.76},{"f":"THE1C","id":25,"GP5d":0.33,"HepG2":0.18},{"f":"THE1C","id":26,"GP5d":0.30,"HepG2":0.35},{"f":"THE1C","id":27,"GP5d":0.27,"HepG2":0.10},{"f":"THE1C","id":28,"GP5d":0.24,"HepG2":0.66},{"f":"THE1C","id":29,"GP5d":0.22,"HepG2":0.14},{"f":"THE1C","id":30,"GP5d":0.19,"HepG2":0.42},{"f":"THE1C","id":31,"GP5d":0.15,"HepG2":0.25},{"f":"THE1C","id":32,"GP5d":0.12,"HepG2":0.58},{"f":"THE1C","id":33,"GP5d":0.08,"HepG2":0.20},{"f":"THE1C","id":34,"GP5d":0.03,"HepG2":0.02}
 ],
 "one":[{}]
},
"spacing":8,
"resolve":{"scale":{"color":"independent","strokeDash":"independent","fillOpacity":"independent"}},
"hconcat":[
{
 "concat":[
  {
   "title":{"text":"a","anchor":"start","frame":"bounds","fontSize":15,"fontWeight":"bold","offset":11},
   "width":275,"height":215,
   "encoding":{
    "x":{"field":"nm","type":"quantitative","scale":{"type":"log","domain":[0.1,420],"nice":false},"axis":{"values":[1,10,100],"format":"d","title":["HepG2 NM STARR−seq peak","observed/expected ratio"],"titleFontSize":13.5,"titlePadding":4}},
    "y":{"field":"m","type":"quantitative","scale":{"type":"log","domain":[0.1,420],"nice":false},"axis":{"values":[1,10,100],"format":"d","title":["HepG2 M STARR−seq peak","observed/expected ratio"],"titleFontSize":13,"titlePadding":0}}
   },
   "layer":[
    {"data":{"values":[{"nm":0.1,"m":0.1},{"nm":420,"m":420}]},"mark":{"type":"line","strokeDash":[5,4],"color":"#b3b3b3","strokeWidth":1}},
    {"data":{"name":"peaks"},"mark":{"type":"circle","size":5,"color":"#333333","opacity":0.85}},
    {"data":{"name":"hl"},"mark":{"type":"circle","size":26,"opacity":1},"encoding":{"color":{"field":"te","type":"nominal","scale":{"domain":["MER61E","THE1B","THE1C","L1PA3"],"range":["#1b9e77","#1b9e77","#1b9e77","#d9822b"]},"legend":null}}},
    {"data":{"name":"hl"},"transform":[{"filter":"datum.te==='MER61E'"}],"mark":{"type":"text","align":"right","dx":-5,"fontSize":11},"encoding":{"text":{"field":"te","type":"nominal"}}},
    {"data":{"name":"hl"},"transform":[{"filter":"datum.te==='THE1C'"}],"mark":{"type":"text","align":"left","dx":1,"dy":-8,"fontSize":11},"encoding":{"text":{"field":"te","type":"nominal"}}},
    {"data":{"name":"hl"},"transform":[{"filter":"datum.te==='THE1B'"}],"mark":{"type":"text","align":"left","dx":6,"dy":8,"fontSize":11},"encoding":{"text":{"field":"te","type":"nominal"}}},
    {"data":{"name":"hl"},"transform":[{"filter":"datum.te==='L1PA3'"}],"mark":{"type":"text","align":"left","dx":6,"dy":7,"fontSize":11},"encoding":{"text":{"field":"te","type":"nominal"}}}
   ]
  },
  {
   "title":{"text":"c","anchor":"start","frame":"bounds","fontSize":15,"fontWeight":"bold","offset":21,"dx":-29},
   "spacing":3,
   "vconcat":[
    {
     "width":252,"height":41,
     "layer":[
      {"data":{"name":"one"},"mark":{"type":"rule","color":"#b0b0b0","strokeWidth":1},"encoding":{"x":{"datum":29400327},"x2":{"datum":29408667},"y":{"datum":0}}},
      {"data":{"name":"starr"},"mark":{"type":"area","blend":"multiply"},"encoding":{
        "x":{"field":"pos","type":"quantitative","scale":{"domain":[29399799,29408667],"nice":false,"zero":false},"axis":{"orient":"top","title":"Chr21: 29,400,327-29,408,667","labels":false,"ticks":false,"domain":false,"titleFontSize":11.5,"titleAlign":"left","titleAnchor":"start","titleX":0,"titlePadding":11}},
        "y":{"field":"cov","type":"quantitative","stack":null,"scale":{"domain":[0,29.7],"nice":false},"axis":{"values":[0,29.7],"format":".1~f","title":null,"labelFontSize":10.5,"tickSize":-5,"labelPadding":9,"domainColor":"#555555","tickColor":"#555555"}},
        "color":{"field":"sample","type":"nominal","scale":{"domain":["Non-methylated","Methylated"],"range":["#ef8a7f","#5b8fc0"]},"legend":{"orient":"none","legendX":47,"legendY":-43,"direction":"horizontal","title":null,"symbolType":"square","symbolSize":170,"symbolStrokeColor":"#888888","symbolStrokeWidth":0.8,"symbolOpacity":1,"labelFontSize":11.5,"columnPadding":22}},
        "fillOpacity":{"condition":{"test":"datum.sample==='Methylated'","value":0.65},"value":0.95}
      }},
      {"data":{"name":"one"},"mark":{"type":"text","text":"STARR-seq","align":"left","baseline":"top","fontSize":11.5},"encoding":{"x":{"datum":29400327},"y":{"datum":29.7}}},
      {"data":{"name":"one"},"mark":{"type":"rule","strokeWidth":1.5,"color":"#111111"},"encoding":{"x":{"datum":29407667},"x2":{"datum":29408667},"y":{"datum":23}}},
      {"data":{"name":"one"},"mark":{"type":"text","text":"1 kb","baseline":"bottom","fontSize":11.5,"dy":-1},"encoding":{"x":{"datum":29408167},"y":{"datum":23}}}
     ]
    },
    {
     "width":252,"height":10,
     "layer":[
      {"data":{"name":"tes"},"mark":{"type":"rule","color":"#1c3cf5","strokeWidth":3.5},"encoding":{"x":{"field":"start","type":"quantitative","scale":{"domain":[29399799,29408667],"nice":false,"zero":false},"axis":null},"x2":{"field":"end"},"y":{"datum":0,"type":"quantitative","scale":{"domain":[-1,1]},"axis":null}}},
      {"data":{"name":"the1c"},"mark":{"type":"rect","color":"#1c3cf5","stroke":"#0a1a80","strokeWidth":0.8},"encoding":{"x":{"field":"start","type":"quantitative"},"x2":{"field":"end"},"y":{"datum":-1,"type":"quantitative"},"y2":{"datum":1}}},
      {"data":{"name":"the1c"},"mark":{"type":"text","fontSize":11.5,"baseline":"top","dy":4,"dx":5.5},"encoding":{"x":{"field":"start","type":"quantitative"},"y":{"datum":-1,"type":"quantitative"},"text":{"field":"name","type":"nominal"}}},
      {"data":{"name":"one"},"mark":{"type":"text","text":"TEs","align":"left","fontSize":11.5,"dx":8,"baseline":"middle"},"encoding":{"x":{"datum":29408667},"y":{"datum":0}}}
     ]
    }
   ]
  },
  {
   "title":{"text":"e","anchor":"start","frame":"bounds","fontSize":15,"fontWeight":"bold","offset":8,"dx":-18},
   "data":{"name":"eprof"},
   "transform":[{"fold":["NMp","Mp","NMm","Mm"],"as":["k","val"]},{"lookup":"k","from":{"data":{"name":"ekeys"},"key":"k","fields":["sample","strand"]}}],
   "facet":{"column":{"field":"f","type":"nominal","header":{"title":"Distance from center (bp)","titleOrient":"bottom","titleFontSize":13,"titleFontWeight":"normal","titlePadding":0,"labelOrient":"top","labelFontSize":11,"labelPadding":4}}},
   "spacing":5,
   "spec":{
    "width":134,"height":139,
    "mark":{"type":"line","strokeWidth":1.6},
    "encoding":{
     "x":{"field":"pos","type":"quantitative","scale":{"domain":[-1250,1250],"nice":false,"zero":false},"axis":{"values":[-1000,0,1000],"labelExpr":"datum.value > 0 ? '+' + datum.value : (datum.value < 0 ? '−' + abs(datum.value) : '0')","title":null}},
     "y":{"field":"val","type":"quantitative","scale":{"domain":[-0.09,3.05],"nice":false,"zero":false},"axis":{"values":[0,1,2,3],"title":"RPKM + 1 (log2)","titleFontSize":13.5}},
     "color":{"field":"sample","type":"nominal","scale":{"domain":["STARR NM","STARR M"],"range":["#f05440","#2383cf"]},"legend":{"orient":"none","legendX":95,"legendY":28,"title":null,"labelFontSize":11.5,"symbolType":"stroke","symbolStrokeWidth":1.8,"symbolSize":200,"rowPadding":1}},
     "strokeDash":{"field":"strand","type":"nominal","scale":{"domain":["STARR +","STARR −"],"range":[[1,0],[4,3]]},"legend":{"orient":"none","legendX":95,"legendY":-2,"title":null,"labelFontSize":11.5,"symbolStrokeColor":"#777777","symbolStrokeWidth":1.2,"symbolSize":200,"rowPadding":1}}
    }
   }
  }
 ],
 "columns":1,
 "align":"none",
 "spacing":10,
 "resolve":{"scale":{"color":"independent","strokeDash":"independent","fillOpacity":"independent"}}
},
{
 "concat":[
  {
   "title":{"text":"b","anchor":"start","frame":"bounds","fontSize":15,"fontWeight":"bold","offset":16},
   "spacing":4,
   "hconcat":[
    {
     "width":77,"height":215,
     "title":{"text":"MER61E","subtitle":"p = 0.34","fontSize":13,"subtitleFontSize":10.5,"subtitlePadding":2,"offset":-21},
     "encoding":{"y":{"field":"v","type":"quantitative","scale":{"domain":[-0.6,15.0],"nice":false,"zero":false},"axis":{"values":[0,2.5,5,7.5,10,12.5],"format":".1f","title":"RPKM + 1 (log2)","titleFontSize":13.5,"titlePadding":3,"domain":false}}},
     "layer":[
      {"data":{"name":"violin"},"transform":[{"filter":"datum.f==='MER61E' && datum.c==='NM' && datum.d===0"}],"mark":{"type":"rule","color":"#3a3a3a","strokeWidth":1},"encoding":{"x":{"field":"d","type":"quantitative","scale":{"domain":[0,1]},"axis":null},"y":{"datum":-0.6},"y2":{"datum":12.9}}},
      {"data":{"name":"violin"},"transform":[{"filter":"datum.f==='MER61E' && datum.c==='NM'"}],"mark":{"type":"area","orient":"horizontal","color":"#ef8a7f"},"encoding":{"x":{"field":"d","type":"quantitative","stack":null,"scale":{"domain":[-21.3,56.7]},"axis":null}}},
      {"data":{"name":"violin"},"transform":[{"filter":"datum.f==='MER61E' && datum.c==='NM'"}],"mark":{"type":"area","orient":"horizontal","color":"#ef8a7f"},"encoding":{"x":{"field":"d","type":"quantitative","stack":null,"scale":{"domain":[-56.7,21.3],"reverse":true},"axis":null}}},
      {"data":{"name":"violin"},"transform":[{"filter":"datum.f==='MER61E' && datum.c==='M'"}],"mark":{"type":"area","orient":"horizontal","color":"#5ba6d8"},"encoding":{"x":{"field":"d","type":"quantitative","stack":null,"scale":{"domain":[-56.7,21.3]},"axis":null}}},
      {"data":{"name":"violin"},"transform":[{"filter":"datum.f==='MER61E' && datum.c==='M'"}],"mark":{"type":"area","orient":"horizontal","color":"#5ba6d8"},"encoding":{"x":{"field":"d","type":"quantitative","stack":null,"scale":{"domain":[-21.3,56.7],"reverse":true},"axis":null}}},
      {"data":{"name":"pairsB"},"transform":[{"filter":"datum.f==='MER61E'"},{"fold":["NM","M"],"as":["c","v"]}],"mark":{"type":"line","color":"#4d4d4d","strokeWidth":0.5,"opacity":0.5,"point":{"filled":true,"size":3,"color":"#111111","opacity":1}},"encoding":{"x":{"field":"c","type":"nominal","scale":{"type":"point","domain":["NM","M"],"padding":0.6},"axis":{"title":"n = 208","labelAngle":0,"labelFontSize":11,"titleFontSize":11,"titlePadding":2}},"detail":{"field":"id","type":"nominal"}}}
     ],
     "resolve":{"scale":{"x":"independent"}}
    },
    {
     "width":77,"height":215,
     "title":{"text":"L1PA3","subtitle":"p = 0.00041","fontSize":13,"subtitleFontSize":10.5,"subtitlePadding":2,"offset":-21},
     "encoding":{"y":{"field":"v","type":"quantitative","scale":{"domain":[-0.6,15.0],"nice":false,"zero":false},"axis":null}},
     "layer":[
      {"data":{"name":"violin"},"transform":[{"filter":"datum.f==='L1PA3' && datum.c==='NM'"}],"mark":{"type":"area","orient":"horizontal","color":"#ef8a7f"},"encoding":{"x":{"field":"d","type":"quantitative","stack":null,"scale":{"domain":[-21.3,56.7]},"axis":null}}},
      {"data":{"name":"violin"},"transform":[{"filter":"datum.f==='L1PA3' && datum.c==='NM'"}],"mark":{"type":"area","orient":"horizontal","color":"#ef8a7f"},"encoding":{"x":{"field":"d","type":"quantitative","stack":null,"scale":{"domain":[-56.7,21.3],"reverse":true},"axis":null}}},
      {"data":{"name":"violin"},"transform":[{"filter":"datum.f==='L1PA3' && datum.c==='M'"}],"mark":{"type":"area","orient":"horizontal","color":"#5ba6d8"},"encoding":{"x":{"field":"d","type":"quantitative","stack":null,"scale":{"domain":[-56.7,21.3]},"axis":null}}},
      {"data":{"name":"violin"},"transform":[{"filter":"datum.f==='L1PA3' && datum.c==='M'"}],"mark":{"type":"area","orient":"horizontal","color":"#5ba6d8"},"encoding":{"x":{"field":"d","type":"quantitative","stack":null,"scale":{"domain":[-21.3,56.7],"reverse":true},"axis":null}}},
      {"data":{"name":"pairsB"},"transform":[{"filter":"datum.f==='L1PA3'"},{"fold":["NM","M"],"as":["c","v"]}],"mark":{"type":"line","color":"#4d4d4d","strokeWidth":0.5,"opacity":0.5,"point":{"filled":true,"size":3,"color":"#111111","opacity":1}},"encoding":{"x":{"field":"c","type":"nominal","scale":{"type":"point","domain":["NM","M"],"padding":0.6},"axis":{"title":"n = 292","labelAngle":0,"labelFontSize":11,"titleFontSize":11,"titlePadding":2}},"detail":{"field":"id","type":"nominal"}}}
     ],
     "resolve":{"scale":{"x":"independent"}}
    },
    {
     "width":77,"height":215,
     "title":{"text":"THE1B","subtitle":"p = 5e−15","fontSize":13,"subtitleFontSize":10.5,"subtitlePadding":2,"offset":-21},
     "encoding":{"y":{"field":"v","type":"quantitative","scale":{"domain":[-0.6,15.0],"nice":false,"zero":false},"axis":null}},
     "layer":[
      {"data":{"name":"violin"},"transform":[{"filter":"datum.f==='THE1B' && datum.c==='NM'"}],"mark":{"type":"area","orient":"horizontal","color":"#ef8a7f"},"encoding":{"x":{"field":"d","type":"quantitative","stack":null,"scale":{"domain":[-21.3,56.7]},"axis":null}}},
      {"data":{"name":"violin"},"transform":[{"filter":"datum.f==='THE1B' && datum.c==='NM'"}],"mark":{"type":"area","orient":"horizontal","color":"#ef8a7f"},"encoding":{"x":{"field":"d","type":"quantitative","stack":null,"scale":{"domain":[-56.7,21.3],"reverse":true},"axis":null}}},
      {"data":{"name":"violin"},"transform":[{"filter":"datum.f==='THE1B' && datum.c==='M'"}],"mark":{"type":"area","orient":"horizontal","color":"#5ba6d8"},"encoding":{"x":{"field":"d","type":"quantitative","stack":null,"scale":{"domain":[-56.7,21.3]},"axis":null}}},
      {"data":{"name":"violin"},"transform":[{"filter":"datum.f==='THE1B' && datum.c==='M'"}],"mark":{"type":"area","orient":"horizontal","color":"#5ba6d8"},"encoding":{"x":{"field":"d","type":"quantitative","stack":null,"scale":{"domain":[-21.3,56.7],"reverse":true},"axis":null}}},
      {"data":{"name":"pairsB"},"transform":[{"filter":"datum.f==='THE1B'"},{"fold":["NM","M"],"as":["c","v"]}],"mark":{"type":"line","color":"#4d4d4d","strokeWidth":0.5,"opacity":0.5,"point":{"filled":true,"size":3,"color":"#111111","opacity":1}},"encoding":{"x":{"field":"c","type":"nominal","scale":{"type":"point","domain":["NM","M"],"padding":0.6},"axis":{"title":"n = 284","labelAngle":0,"labelFontSize":11,"titleFontSize":11,"titlePadding":2}},"detail":{"field":"id","type":"nominal"}}}
     ],
     "resolve":{"scale":{"x":"independent"}}
    },
    {
     "width":77,"height":215,
     "title":{"text":"THE1C","subtitle":"p = 2.3e−09","fontSize":13,"subtitleFontSize":10.5,"subtitlePadding":2,"offset":-21},
     "encoding":{"y":{"field":"v","type":"quantitative","scale":{"domain":[-0.6,15.0],"nice":false,"zero":false},"axis":null}},
     "layer":[
      {"data":{"name":"violin"},"transform":[{"filter":"datum.f==='THE1C' && datum.c==='NM'"}],"mark":{"type":"area","orient":"horizontal","color":"#ef8a7f"},"encoding":{"x":{"field":"d","type":"quantitative","stack":null,"scale":{"domain":[-21.3,56.7]},"axis":null}}},
      {"data":{"name":"violin"},"transform":[{"filter":"datum.f==='THE1C' && datum.c==='NM'"}],"mark":{"type":"area","orient":"horizontal","color":"#ef8a7f"},"encoding":{"x":{"field":"d","type":"quantitative","stack":null,"scale":{"domain":[-56.7,21.3],"reverse":true},"axis":null}}},
      {"data":{"name":"violin"},"transform":[{"filter":"datum.f==='THE1C' && datum.c==='M'"}],"mark":{"type":"area","orient":"horizontal","color":"#5ba6d8"},"encoding":{"x":{"field":"d","type":"quantitative","stack":null,"scale":{"domain":[-56.7,21.3]},"axis":null}}},
      {"data":{"name":"violin"},"transform":[{"filter":"datum.f==='THE1C' && datum.c==='M'"}],"mark":{"type":"area","orient":"horizontal","color":"#5ba6d8"},"encoding":{"x":{"field":"d","type":"quantitative","stack":null,"scale":{"domain":[-21.3,56.7],"reverse":true},"axis":null}}},
      {"data":{"name":"pairsB"},"transform":[{"filter":"datum.f==='THE1C'"},{"fold":["NM","M"],"as":["c","v"]}],"mark":{"type":"line","color":"#4d4d4d","strokeWidth":0.5,"opacity":0.5,"point":{"filled":true,"size":3,"color":"#111111","opacity":1}},"encoding":{"x":{"field":"c","type":"nominal","scale":{"type":"point","domain":["NM","M"],"padding":0.6},"axis":{"title":"n = 168","labelAngle":0,"labelFontSize":11,"titleFontSize":11,"titlePadding":2}},"detail":{"field":"id","type":"nominal"}}}
     ],
     "resolve":{"scale":{"x":"independent"}}
    }
   ]
  },
  {
   "concat":[
    {
     "title":{"text":"d","anchor":"start","frame":"bounds","fontSize":15,"fontWeight":"bold","offset":16},
     "spacing":0,
     "vconcat":[
      {
       "spacing":4,
       "hconcat":[
        {
         "width":88,"height":44,
         "layer":[
          {"data":{"name":"logohl"},"transform":[{"filter":"datum.m==='ZBTB33'"}],"mark":{"type":"rect","color":"#fbe3d2"},"encoding":{"x":{"field":"from","type":"ordinal","bandPosition":0,"scale":{"domain":[1,2,3,4,5,6,7,8,9,10,11,12,13,14,15],"paddingInner":0.08,"paddingOuter":0.04},"axis":{"values":[1,3,5,7,9,11,13,15],"title":null,"labelAngle":0,"ticks":false,"domain":false,"labelFontSize":9,"labelPadding":1}},"x2":{"field":"to","bandPosition":1},"y":{"datum":0,"type":"quantitative","scale":{"domain":[0,2],"nice":false},"axis":{"values":[0,0.5,1,1.5,2],"labelExpr":"datum.value === 0 ? '0' : format(datum.value, '.1f')","title":"Bits","titleFontSize":9,"labelFontSize":9,"ticks":false,"domain":false,"titlePadding":3}},"y2":{"datum":2}}},
          {"data":{"name":"logo"},"transform":[{"filter":"datum.m==='ZBTB33'"}],"mark":{"type":"bar"},"encoding":{"x":{"field":"p","type":"ordinal","axis":{"values":[1,3,5,7,9,11,13,15],"title":null,"labelAngle":0,"ticks":false,"domain":false,"labelFontSize":9,"labelPadding":1}},"y":{"field":"h","type":"quantitative","stack":"zero","axis":{"values":[0,0.5,1,1.5,2],"labelExpr":"datum.value === 0 ? '0' : format(datum.value, '.1f')","title":"Bits","titleFontSize":9,"labelFontSize":9,"ticks":false,"domain":false,"titlePadding":3}},"color":{"field":"b","type":"nominal","scale":{"domain":["A","C","G","T"],"range":["#109648","#255c99","#f7b32b","#d62839"]},"legend":null},"order":{"field":"h","type":"quantitative","sort":"ascending"}}},
          {"data":{"name":"logolab"},"transform":[{"filter":"datum.m==='ZBTB33'"}],"mark":{"type":"text","align":"left","baseline":"middle","fontSize":11.5,"lineHeight":12.5,"dx":5},"encoding":{"x":{"field":"p","type":"ordinal"},"y":{"datum":1,"type":"quantitative"},"text":{"field":"name"}}}
         ]
        },
        {
         "width":90,"height":44,
         "layer":[
          {"data":{"name":"logohl"},"transform":[{"filter":"datum.m==='HOXC13'"}],"mark":{"type":"rect","color":"#fbe3d2"},"encoding":{"x":{"field":"from","type":"ordinal","bandPosition":0,"scale":{"domain":[1,2,3,4,5,6,7,8,9,10,11],"paddingInner":0.08,"paddingOuter":0.04},"axis":{"title":null,"labelAngle":0,"ticks":false,"domain":false,"labelFontSize":9,"labelPadding":1}},"x2":{"field":"to","bandPosition":1},"y":{"datum":0,"type":"quantitative","scale":{"domain":[0,2],"nice":false},"axis":{"values":[0,0.5,1,1.5,2],"labelExpr":"datum.value === 0 ? '0' : format(datum.value, '.1f')","title":"Bits","titleFontSize":9,"labelFontSize":9,"ticks":false,"domain":false,"titlePadding":3}},"y2":{"datum":2}}},
          {"data":{"name":"logo"},"transform":[{"filter":"datum.m==='HOXC13'"}],"mark":{"type":"bar"},"encoding":{"x":{"field":"p","type":"ordinal","axis":{"title":null,"labelAngle":0,"ticks":false,"domain":false,"labelFontSize":9,"labelPadding":1}},"y":{"field":"h","type":"quantitative","stack":"zero","axis":{"values":[0,0.5,1,1.5,2],"labelExpr":"datum.value === 0 ? '0' : format(datum.value, '.1f')","title":"Bits","titleFontSize":9,"labelFontSize":9,"ticks":false,"domain":false,"titlePadding":3}},"color":{"field":"b","type":"nominal","scale":{"domain":["A","C","G","T"],"range":["#109648","#255c99","#f7b32b","#d62839"]},"legend":null},"order":{"field":"h","type":"quantitative","sort":"ascending"}}},
          {"data":{"name":"logolab"},"transform":[{"filter":"datum.m==='HOXC13'"}],"mark":{"type":"text","align":"left","baseline":"middle","fontSize":11.5,"lineHeight":12.5,"dx":12},"encoding":{"x":{"field":"p","type":"ordinal"},"y":{"datum":1.05,"type":"quantitative"},"text":{"field":"name"}}}
         ]
        }
       ]
      },
      {
       "spacing":14,
       "hconcat":[
        {
         "width":76,"height":44,
         "layer":[
          {"data":{"name":"logohl"},"transform":[{"filter":"datum.m==='TFEB'"}],"mark":{"type":"rect","color":"#fbe3d2"},"encoding":{"x":{"field":"from","type":"ordinal","bandPosition":0,"scale":{"domain":[1,2,3,4,5,6,7,8,9,10],"paddingInner":0.08,"paddingOuter":0.04},"axis":{"title":null,"labelAngle":0,"ticks":false,"domain":false,"labelFontSize":9,"labelPadding":1}},"x2":{"field":"to","bandPosition":1},"y":{"datum":0,"type":"quantitative","scale":{"domain":[0,2],"nice":false},"axis":{"values":[0,0.5,1,1.5,2],"labelExpr":"datum.value === 0 ? '0' : format(datum.value, '.1f')","title":"Bits","titleFontSize":9,"labelFontSize":9,"ticks":false,"domain":false,"titlePadding":3}},"y2":{"datum":2}}},
          {"data":{"name":"logo"},"transform":[{"filter":"datum.m==='TFEB'"}],"mark":{"type":"bar"},"encoding":{"x":{"field":"p","type":"ordinal","axis":{"title":null,"labelAngle":0,"ticks":false,"domain":false,"labelFontSize":9,"labelPadding":1}},"y":{"field":"h","type":"quantitative","stack":"zero","axis":{"values":[0,0.5,1,1.5,2],"labelExpr":"datum.value === 0 ? '0' : format(datum.value, '.1f')","title":"Bits","titleFontSize":9,"labelFontSize":9,"ticks":false,"domain":false,"titlePadding":3}},"color":{"field":"b","type":"nominal","scale":{"domain":["A","C","G","T"],"range":["#109648","#255c99","#f7b32b","#d62839"]},"legend":null},"order":{"field":"h","type":"quantitative","sort":"ascending"}}},
          {"data":{"name":"logolab"},"transform":[{"filter":"datum.m==='TFEB'"}],"mark":{"type":"text","align":"left","baseline":"middle","fontSize":11.5,"lineHeight":12.5,"dx":12},"encoding":{"x":{"field":"p","type":"ordinal"},"y":{"datum":1.05,"type":"quantitative"},"text":{"field":"name"}}}
         ]
        },
        {
         "width":84,"height":44,
         "layer":[
          {"data":{"name":"logohl"},"transform":[{"filter":"datum.m==='MLXIPL'"}],"mark":{"type":"rect","color":"#fbe3d2"},"encoding":{"x":{"field":"from","type":"ordinal","bandPosition":0,"scale":{"domain":[1,2,3,4,5,6,7,8,9,10],"paddingInner":0.08,"paddingOuter":0.04},"axis":{"title":null,"labelAngle":0,"ticks":false,"domain":false,"labelFontSize":9,"labelPadding":1}},"x2":{"field":"to","bandPosition":1},"y":{"datum":0,"type":"quantitative","scale":{"domain":[0,2],"nice":false},"axis":{"values":[0,0.5,1,1.5,2],"labelExpr":"datum.value === 0 ? '0' : format(datum.value, '.1f')","title":"Bits","titleFontSize":9,"labelFontSize":9,"ticks":false,"domain":false,"titlePadding":3}},"y2":{"datum":2}}},
          {"data":{"name":"logo"},"transform":[{"filter":"datum.m==='MLXIPL'"}],"mark":{"type":"bar"},"encoding":{"x":{"field":"p","type":"ordinal","axis":{"title":null,"labelAngle":0,"ticks":false,"domain":false,"labelFontSize":9,"labelPadding":1}},"y":{"field":"h","type":"quantitative","stack":"zero","axis":{"values":[0,0.5,1,1.5,2],"labelExpr":"datum.value === 0 ? '0' : format(datum.value, '.1f')","title":"Bits","titleFontSize":9,"labelFontSize":9,"ticks":false,"domain":false,"titlePadding":3}},"color":{"field":"b","type":"nominal","scale":{"domain":["A","C","G","T"],"range":["#109648","#255c99","#f7b32b","#d62839"]},"legend":null},"order":{"field":"h","type":"quantitative","sort":"ascending"}}},
          {"data":{"name":"logolab"},"transform":[{"filter":"datum.m==='MLXIPL'"}],"mark":{"type":"text","align":"left","baseline":"middle","fontSize":11.5,"lineHeight":12.5,"dx":16},"encoding":{"x":{"field":"p","type":"ordinal"},"y":{"datum":1.05,"type":"quantitative"},"text":{"field":"name"}}}
         ]
        }
       ]
      }
     ]
    },
    {
     "title":{"text":"f","anchor":"start","frame":"bounds","fontSize":15,"fontWeight":"bold","offset":2},
     "spacing":5,
     "hconcat":[
      {
       "width":101,"height":137,
       "title":{"text":"THE1B","subtitle":"p = 3.4e−06","fontSize":12.5,"subtitleFontSize":12,"subtitlePadding":1,"offset":-5},
       "layer":[
        {"data":{"name":"fbox"},"transform":[{"filter":"datum.f==='THE1B'"}],"mark":{"type":"bar","stroke":"#8c8c8c","strokeWidth":1,"width":{"band":0.75}},"encoding":{"x":{"field":"cell","type":"nominal","scale":{"domain":["GP5d","HepG2"],"paddingInner":0,"paddingOuter":0.087},"axis":{"title":"n = 248","labelAngle":0,"labelFontSize":12,"titleFontSize":12,"titlePadding":2}},"y":{"field":"q1","type":"quantitative","scale":{"domain":[-0.03,0.98],"nice":false,"zero":false},"axis":{"values":[0,0.25,0.5,0.75],"format":".2f","title":"Methylation","labelFontSize":10.5,"titleFontSize":13.5,"titlePadding":2}},"y2":{"field":"q3"},"color":{"field":"cell","type":"nominal","scale":{"domain":["GP5d","HepG2"],"range":["#ef8a7f","#5ba6d8"]},"legend":null}}},
        {"data":{"name":"fbox"},"transform":[{"filter":"datum.f==='THE1B'"}],"mark":{"type":"tick","thickness":2,"color":"#333333"},"encoding":{"x":{"field":"cell","type":"nominal","axis":{"title":"n = 248","labelAngle":0,"labelFontSize":12,"titleFontSize":12,"titlePadding":2}},"y":{"field":"median","type":"quantitative","axis":{"values":[0,0.25,0.5,0.75],"format":".2f","title":"Methylation","labelFontSize":10.5,"titleFontSize":13.5,"titlePadding":2}}}},
        {"data":{"name":"fpairs"},"transform":[{"filter":"datum.f==='THE1B'"},{"fold":["GP5d","HepG2"],"as":["cell","meth"]}],"mark":{"type":"line","color":"#4d4d4d","strokeWidth":0.5,"opacity":0.45,"point":{"filled":true,"size":2.5,"color":"#222222","opacity":0.9}},"encoding":{"x":{"field":"cell","type":"nominal","axis":{"title":"n = 248","labelAngle":0,"labelFontSize":12,"titleFontSize":12,"titlePadding":2}},"y":{"field":"meth","type":"quantitative","axis":{"values":[0,0.25,0.5,0.75],"format":".2f","title":"Methylation","labelFontSize":10.5,"titleFontSize":13.5,"titlePadding":2}},"detail":{"field":"id","type":"nominal"}}}
       ]
      },
      {
       "width":101,"height":137,
       "title":{"text":"THE1C","subtitle":"p = 0.00051","fontSize":12.5,"subtitleFontSize":12,"subtitlePadding":1,"offset":-5},
       "layer":[
        {"data":{"name":"fbox"},"transform":[{"filter":"datum.f==='THE1C'"}],"mark":{"type":"bar","stroke":"#8c8c8c","strokeWidth":1,"width":{"band":0.75}},"encoding":{"x":{"field":"cell","type":"nominal","scale":{"domain":["GP5d","HepG2"],"paddingInner":0,"paddingOuter":0.087},"axis":{"title":"n = 156","labelAngle":0,"labelFontSize":12,"titleFontSize":12,"titlePadding":2}},"y":{"field":"q1","type":"quantitative","scale":{"domain":[-0.03,0.98],"nice":false,"zero":false},"axis":null},"y2":{"field":"q3"},"color":{"field":"cell","type":"nominal","scale":{"domain":["GP5d","HepG2"],"range":["#ef8a7f","#5ba6d8"]},"legend":null}}},
        {"data":{"name":"fbox"},"transform":[{"filter":"datum.f==='THE1C'"}],"mark":{"type":"tick","thickness":2,"color":"#333333"},"encoding":{"x":{"field":"cell","type":"nominal","axis":{"title":"n = 156","labelAngle":0,"labelFontSize":12,"titleFontSize":12,"titlePadding":2}},"y":{"field":"median","type":"quantitative","axis":null}}},
        {"data":{"name":"fpairs"},"transform":[{"filter":"datum.f==='THE1C'"},{"fold":["GP5d","HepG2"],"as":["cell","meth"]}],"mark":{"type":"line","color":"#4d4d4d","strokeWidth":0.5,"opacity":0.45,"point":{"filled":true,"size":2.5,"color":"#222222","opacity":0.9}},"encoding":{"x":{"field":"cell","type":"nominal","axis":{"title":"n = 156","labelAngle":0,"labelFontSize":12,"titleFontSize":12,"titlePadding":2}},"y":{"field":"meth","type":"quantitative","axis":null},"detail":{"field":"id","type":"nominal"}}}
       ]
      }
     ]
    }
   ],
   "columns":1,
   "align":"none",
   "spacing":20,
   "resolve":{"scale":{"color":"independent","strokeDash":"independent","fillOpacity":"independent"}}
  }
 ],
 "columns":1,
 "align":"none",
 "spacing":36,
 "resolve":{"scale":{"color":"independent","strokeDash":"independent","fillOpacity":"independent"}}
}
]
}
